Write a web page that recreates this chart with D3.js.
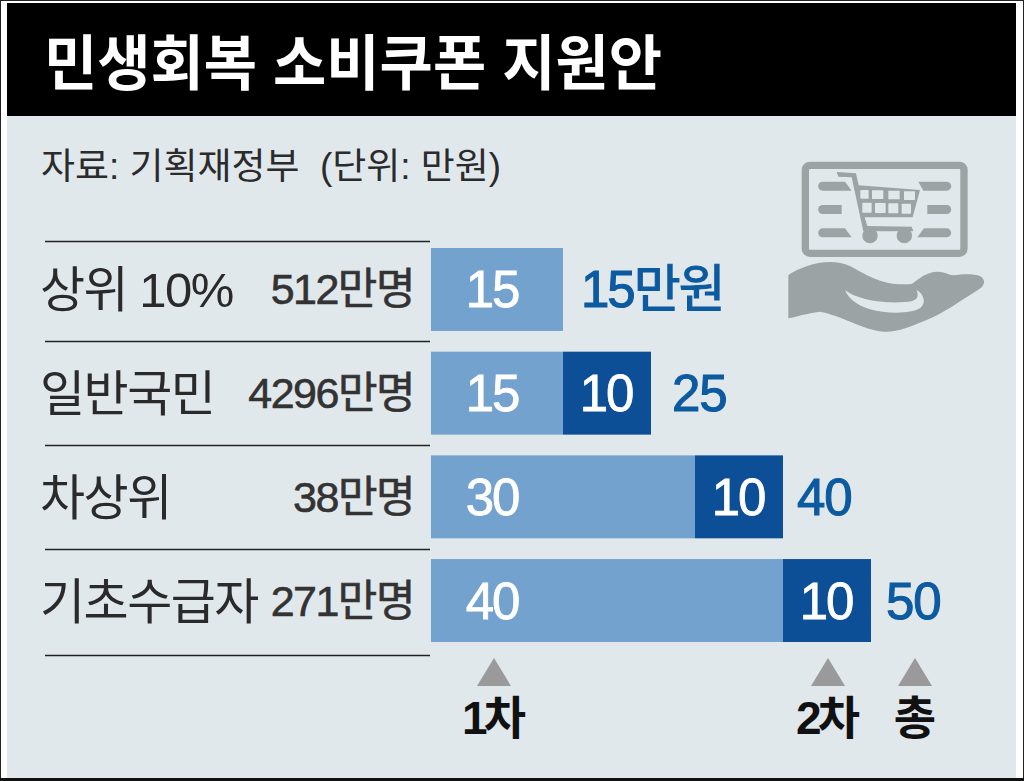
<!DOCTYPE html>
<html lang="ko"><head><meta charset="utf-8">
<script src="https://cdn.jsdelivr.net/npm/d3@7/dist/d3.min.js"></script>
<style>html,body{margin:0;padding:0;background:#fff}svg{display:block}text{font-family:"Liberation Sans","Noto Sans CJK KR",sans-serif}</style>
</head><body><div id="c"></div>
<script>
const titleText = "민생회복 소비쿠폰 지원안";
const sourceText = "자료: 기획재정부  (단위: 만원)";
const groups = ["상위 10%", "일반국민", "차상위", "기초수급자"];
const people = ["512만명", "4296만명", "38만명", "271만명"];
const firstRound = [15, 15, 30, 40];
const secondRound = [0, 10, 10, 10];
const totalLabels = ["15만원", "25", "40", "50"];
const totalGaps = [19, 21, 14, 15];
const markerLabels = ["1차", "2차", "총"];
const markerX = [494, 828, 915];

const W = 1024, H = 781, BG = "#e1e8ec", GREY = "#9ba3a5";
const svg = d3.select("#c").append("svg").attr("width", W).attr("height", H);
svg.append("rect").attr("width", W).attr("height", H).attr("fill", "#fff");
svg.append("rect").attr("x", 7).attr("y", 3).attr("width", 1009).attr("height", 775).attr("fill", BG);
svg.append("rect").attr("x", 0.5).attr("y", 0.5).attr("width", W - 1).attr("height", H - 1).attr("fill", "none").attr("stroke", "#222");
svg.append("rect").attr("x", 7).attr("y", 3).attr("width", 1009).attr("height", 113).attr("fill", "#000");
svg.append("rect").attr("x", 0).attr("y", 778).attr("width", W).attr("height", 3).attr("fill", "#111");
svg.append("text").attr("x", 44).attr("y", 85).attr("fill", "#fff").attr("font-size", 60).attr("font-weight", 700).attr("textLength", 618).attr("lengthAdjust", "spacingAndGlyphs").text(titleText);
svg.append("text").attr("x", 41).attr("y", 179).attr("fill", "#2b2b2b").attr("font-size", 36).attr("textLength", 460).attr("lengthAdjust", "spacingAndGlyphs").attr("xml:space", "preserve").text(sourceText);

const x = d3.scaleLinear().domain([0, 50]).range([431, 871]);
const y = d3.scaleBand().domain(groups).range([248, 642]).paddingInner(0.2).paddingOuter(0);
const mid = g => y(g) + y.bandwidth() / 2;

const ruleY = [...groups.map((g, i) => y(g) - (i === 0 ? 7 : 10.5)), y(groups[3]) + y.bandwidth() + 13];
svg.selectAll("line.rule").data(ruleY).join("line").attr("class", "rule")
  .attr("x1", 45).attr("x2", 430).attr("y1", d => Math.round(d) + .5).attr("y2", d => Math.round(d) + .5)
  .attr("stroke", "#222").attr("stroke-width", 1.6);

const rows = svg.selectAll("g.row").data(groups).join("g").attr("class", "row");
rows.append("text").attr("x", 40).attr("y", g => mid(g) + 18).attr("font-size", 49).attr("fill", "#2a2a2a").attr("letter-spacing", -1.5).attr("xml:space", "preserve").text(g => g);
rows.append("text").attr("x", 414).attr("y", g => mid(g) + 15).attr("text-anchor", "end").attr("font-size", 43).attr("letter-spacing", -1.5).attr("fill", "#333").attr("stroke", "#333").attr("stroke-width", 0.6).text((g, i) => people[i]);
rows.append("rect").attr("x", x(0)).attr("y", g => y(g)).attr("height", y.bandwidth()).attr("width", (g, i) => x(firstRound[i]) - x(0)).attr("fill", "#74a2cf");
rows.filter((g, i) => secondRound[i] > 0).append("rect").attr("x", g => x(firstRound[groups.indexOf(g)])).attr("y", g => y(g)).attr("height", y.bandwidth()).attr("width", g => x(secondRound[groups.indexOf(g)]) - x(0)).attr("fill", "#0c4f96");
rows.append("text").attr("x", 492).attr("y", g => mid(g) + 18).attr("text-anchor", "middle").attr("font-size", 51).attr("fill", "#fff").attr("stroke", "#fff").attr("stroke-width", 0.8).attr("letter-spacing", -2).text((g, i) => firstRound[i]);
rows.filter((g, i) => secondRound[i] > 0).append("text").attr("x", g => { const i = groups.indexOf(g); return x(firstRound[i]) + (x(secondRound[i]) - x(0)) / 2 - 1; }).attr("y", g => mid(g) + 18).attr("text-anchor", "middle").attr("font-size", 51).attr("fill", "#fff").attr("stroke", "#fff").attr("stroke-width", 0.8).attr("letter-spacing", -2).text(g => secondRound[groups.indexOf(g)]);
rows.append("text").attr("x", (g, i) => x(firstRound[i] + secondRound[i]) + totalGaps[i] - (i === 0 ? 1 : 0)).attr("y", g => mid(g) + 18).attr("font-size", 51).attr("fill", "#0c5aa0").attr("stroke", "#0c5aa0").attr("stroke-width", 1.1).attr("letter-spacing", (g, i) => i === 0 ? -2 : -1).text((g, i) => totalLabels[i]);

const mk = svg.selectAll("g.mk").data(markerLabels).join("g").attr("class", "mk");
mk.append("path").attr("d", (d, i) => `M${markerX[i] - 17},686L${markerX[i]},658L${markerX[i] + 17},686Z`).attr("fill", "#9a9a9a");
mk.append("text").attr("x", (d, i) => markerX[i] - 2).attr("y", 734).attr("text-anchor", "middle").attr("font-size", 46).attr("font-weight", 700).attr("fill", "#111").attr("letter-spacing", -4).text(d => d);

// shopping icon, drawn in a 3x grid
const ic = svg.append("g").attr("transform", "translate(770,140) scale(0.3333)").attr("fill", GREY);
ic.append("rect").attr("x", 106).attr("y", 76).attr("width", 476).attr("height", 264).attr("rx", 14).attr("fill", "none").attr("stroke", GREY).attr("stroke-width", 22);
["M158,125L225,125L245,152L158,152A13.5,13.5 0 0 1 158,125Z",
 "M158,195L215,195L215,222L158,222A13.5,13.5 0 0 1 158,195Z",
 "M158,265L225,265L245,292L158,292A13.5,13.5 0 0 1 158,265Z",
 "M445,125L530,125A13.5,13.5 0 0 1 530,152L460,152Z",
 "M472,195L530,195A13.5,13.5 0 0 1 530,222L472,222Z",
 "M462,265L530,265A13.5,13.5 0 0 1 530,292L442,292Z"].forEach(d => ic.append("path").attr("d", d));
ic.append("path").attr("d", "M200,96L258,100L266,136L450,150L428,232L284,232L292,258L425,260L430,274L280,274L245,112L205,110Z");
[[271,150,25,26],[306,151,34,26],[355,152,34,26],[402,154,33,26],[277,188,28,30],[315,189,32,30],[355,190,30,30],[395,191,28,30]].forEach(c =>
  ic.append("rect").attr("x", c[0]).attr("y", c[1]).attr("width", c[2]).attr("height", c[3]).attr("rx", 2).attr("fill", BG));
ic.append("circle").attr("cx", 300).attr("cy", 287).attr("r", 23);
ic.append("circle").attr("cx", 403).attr("cy", 287).attr("r", 23);
ic.append("path").attr("d", "M55,405C100,375 180,350 240,378C290,405 340,440 425,432C450,415 475,392 510,396C530,398 535,405 550,406C575,402 610,400 630,408C650,420 645,440 620,452C575,480 520,520 470,540C420,560 380,578 340,575C280,570 210,525 150,515C110,520 80,530 55,535Z");
ic.append("path").attr("fill", BG).attr("d", "M225,450C255,475 330,492 405,486C435,484 450,478 440,450C462,462 470,490 450,505C420,522 350,522 300,508C260,495 235,475 225,450Z");
</script></body></html>
